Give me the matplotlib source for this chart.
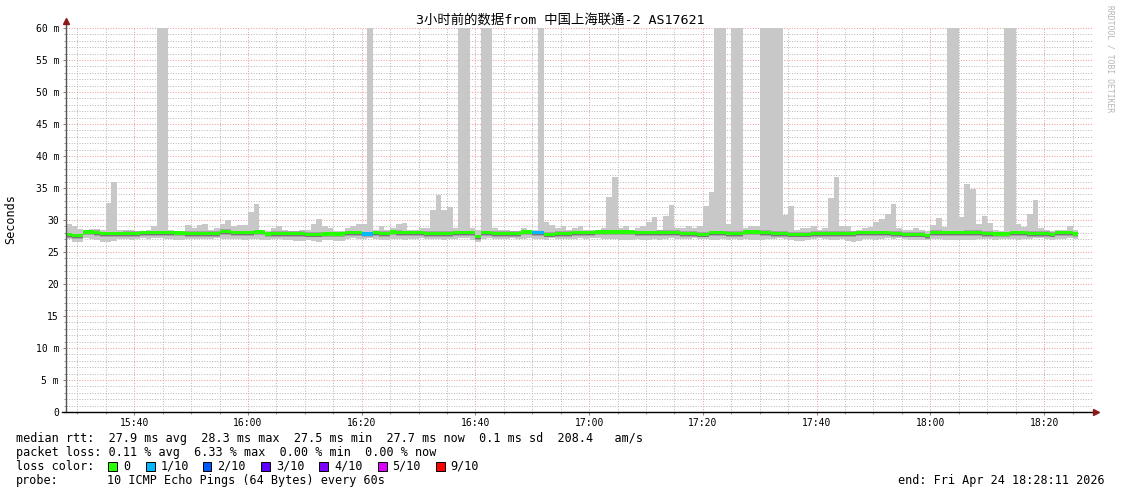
import numpy as np
import matplotlib.pyplot as plt
from matplotlib.patches import Rectangle

W, H = 1121, 494
MONO = 'DejaVu Sans Mono'

title = '3小时前的数据from 中国上海联通-2 AS17621'

# одна ступенька = 1 минута, отсчёт от 15:28
smoke_top = [
    29.4, 29.0, 28.6, 28.5, 28.6, 28.6, 28.4, 32.7, 35.9, 28.4,
    28.4, 28.5, 28.3, 28.3, 28.4, 29.1, 60.0, 60.0, 28.5, 28.3,
    28.3, 29.2, 28.7, 29.2, 29.4, 28.4, 28.7, 29.4, 30.0, 29.0,
    29.2, 29.2, 31.2, 32.5, 28.4, 28.3, 28.7, 29.0, 28.5, 28.3,
    28.3, 28.5, 28.5, 29.4, 30.2, 29.0, 28.7, 28.3, 28.3, 28.7,
    29.0, 29.4, 29.4, 60.0, 28.5, 29.0, 28.5, 28.7, 29.4, 29.6,
    28.5, 28.5, 28.7, 28.7, 31.5, 33.9, 31.6, 32.1, 28.7, 60.0,
    60.0, 28.7, 28.5, 60.0, 60.0, 28.7, 28.5, 28.5, 28.3, 28.3,
    28.7, 28.5, 28.5, 60.0, 29.7, 29.2, 28.7, 29.1, 28.5, 28.7,
    29.0, 28.5, 28.5, 28.5, 28.7, 33.6, 36.7, 28.7, 29.0, 28.5,
    28.7, 29.0, 29.7, 30.4, 28.5, 30.7, 32.4, 28.7, 28.7, 29.0,
    28.7, 29.1, 32.2, 34.4, 60.0, 60.0, 29.4, 60.0, 60.0, 28.7,
    29.0, 29.1, 60.0, 60.0, 60.0, 60.0, 30.8, 32.2, 28.5, 28.7,
    28.7, 29.0, 28.5, 28.7, 33.4, 36.7, 29.0, 29.1, 28.3, 28.5,
    28.7, 28.85, 29.7, 30.2, 31.0, 32.5, 28.7, 28.5, 28.5, 28.7,
    28.4, 28.3, 29.2, 30.25, 28.85, 60.0, 60.0, 30.4, 35.6, 34.8,
    29.4, 30.6, 29.6, 28.5, 28.3, 60.0, 60.0, 29.4, 28.85, 31.0,
    33.1, 28.7, 28.5, 28.3, 28.5, 28.5, 29.0, 28.5,
]

smoke_bottom = [
    27.1, 26.5, 26.5, 27.2, 27.1, 26.8, 26.6, 26.6, 26.7, 27.0,
    27.0, 26.9, 27.1, 27.2, 27.0, 27.2, 27.2, 27.1, 27.1, 26.9,
    26.9, 27.1, 27.0, 27.0, 27.1, 27.1, 27.2, 27.1, 27.0, 27.1,
    27.0, 26.8, 27.1, 27.0, 26.9, 26.8, 27.0, 27.0, 26.9, 26.9,
    26.7, 26.7, 26.9, 26.7, 26.6, 26.9, 26.9, 26.7, 26.7, 27.0,
    27.2, 27.1, 27.1, 27.2, 27.0, 26.9, 26.9, 27.0, 27.0, 26.9,
    27.1, 27.1, 27.2, 27.0, 27.0, 27.1, 26.9, 27.0, 27.1, 27.2,
    27.2, 26.8, 26.5, 27.1, 27.2, 27.0, 27.1, 27.0, 27.2, 27.1,
    27.1, 27.2, 27.1, 27.0, 26.9, 27.2, 27.0, 27.1, 27.0, 27.1,
    27.2, 27.1, 27.2, 27.2, 27.1, 27.0, 27.0, 26.9, 26.9, 26.9,
    27.0, 26.8, 26.8, 27.0, 26.9, 27.0, 27.2, 27.1, 27.1, 27.0,
    27.2, 27.1, 27.0, 26.9, 26.8, 27.0, 26.9, 27.0, 26.9, 27.1,
    26.8, 26.8, 26.9, 27.0, 27.1, 27.2, 27.1, 26.9, 26.7, 26.7,
    26.9, 27.1, 27.2, 27.0, 26.8, 26.8, 27.0, 26.7, 26.6, 26.7,
    27.0, 27.1, 26.9, 27.1, 27.2, 27.1, 27.2, 27.0, 26.8, 26.8,
    26.9, 26.8, 27.0, 27.1, 26.9, 26.8, 26.8, 26.9, 26.8, 26.9,
    27.0, 27.1, 27.1, 26.9, 27.0, 27.1, 27.0, 26.8, 27.0, 27.1,
    27.2, 27.2, 27.0, 26.9, 27.0, 27.1, 27.2, 27.1,
]

median_rtt = [
    27.7, 27.55, 27.55, 28.1, 28.1, 28.05, 27.85, 27.85, 27.85, 27.85,
    27.9, 27.9, 27.9, 28.0, 28.0, 28.0, 28.0, 28.0, 28.0, 27.95,
    27.95, 27.9, 27.9, 27.9, 27.9, 27.9, 27.9, 28.2, 28.2, 28.0,
    28.0, 28.0, 28.0, 28.1, 28.1, 27.8, 27.9, 27.9, 27.9, 27.9,
    27.9, 27.9, 27.75, 27.75, 27.75, 27.8, 27.8, 27.8, 27.8, 28.0,
    28.0, 28.0, 27.8, 27.8, 28.0, 27.9, 27.9, 28.1, 28.05, 28.0,
    28.0, 28.0, 28.0, 27.9, 27.9, 27.9, 27.9, 27.9, 28.0, 28.0,
    28.0, 28.0, 27.4, 28.0, 28.0, 27.9, 27.9, 27.9, 27.9, 27.9,
    28.1, 28.1, 28.0, 28.0, 27.75, 27.75, 27.9, 27.9, 27.9, 28.0,
    28.0, 28.0, 28.0, 28.1, 28.1, 28.1, 28.1, 28.1, 28.1, 28.1,
    28.0, 28.0, 28.0, 28.0, 28.05, 28.05, 28.05, 28.05, 27.9, 27.9,
    27.9, 27.75, 27.75, 28.0, 28.0, 28.0, 27.9, 27.9, 27.9, 28.1,
    28.1, 28.1, 28.05, 28.05, 27.9, 27.9, 27.9, 27.75, 27.75, 27.75,
    27.75, 27.9, 27.9, 27.9, 27.9, 27.9, 27.9, 27.9, 27.9, 28.0,
    28.0, 28.0, 28.0, 28.0, 28.0, 27.9, 27.9, 27.75, 27.75, 27.75,
    27.75, 27.55, 28.05, 28.05, 28.0, 28.0, 28.0, 28.0, 28.05, 28.05,
    28.05, 27.9, 27.9, 27.8, 27.8, 27.8, 28.0, 28.0, 28.0, 27.9,
    27.9, 27.9, 27.9, 27.75, 28.0, 28.0, 28.0, 27.8,
]

# минуты с потерями (1/10)
loss_minutes = [52, 53, 82, 83]
loss_levels = [1, 1, 1, 1]

loss_labels = ['0', '1/10', '2/10', '3/10', '4/10', '5/10', '9/10']
loss_colors = ['#26ff00', '#00b8ff', '#0059ff', '#5e00ff', '#7e00ff', '#dd00ff', '#ff0000']

y_ticks = [0, 5, 10, 15, 20, 25, 30, 35, 40, 45, 50, 55, 60]
y_labels = ['0', '5 m', '10 m', '15', '20', '25', '30', '35 m', '40 m', '45 m', '50 m', '55 m', '60 m']
x_ticks = [12, 32, 52, 72, 92, 112, 132, 152, 172]
x_labels = ['15:40', '16:00', '16:20', '16:40', '17:00', '17:20', '17:40', '18:00', '18:20']

rtt_line = 'median rtt:  27.9 ms avg  28.3 ms max  27.5 ms min  27.7 ms now  0.1 ms sd  208.4   am/s'
loss_line = 'packet loss: 0.11 % avg  6.33 % max  0.00 % min  0.00 % now'
probe_text = '10 ICMP Echo Pings (64 Bytes) every 60s'
end_text = 'end: Fri Apr 24 18:28:11 2026'

top = np.array(smoke_top)
bot = np.array(smoke_bottom)
med = np.array(median_rtt)
edges = np.arange(len(top) + 1)

fig = plt.figure(figsize=(W / 100, H / 100), dpi=100)
fig.patch.set_facecolor('white')
ax = fig.add_axes([66 / W, (H - 412) / H, (1093 - 66) / W, (412 - 28) / H])
ax.set_xlim(0, 180.6)
ax.set_ylim(0, 60)

# сетка точками
ax.set_yticks(y_ticks)
ax.set_yticklabels(y_labels)
ax.set_yticks(np.arange(0, 61, 1), minor=True)
ax.set_xticks(x_ticks)
ax.set_xticklabels(x_labels)
ax.set_xticks(np.arange(2, 181, 5), minor=True)
ax.grid(which='minor', color='#b8b8b8', linestyle=(0, (1, 1.6)), linewidth=0.72)
ax.grid(which='major', color='#ee9a9a', linestyle=(0, (1, 1.6)), linewidth=0.72)
ax.set_axisbelow(True)
for s in ax.spines.values():
    s.set_visible(False)
ax.tick_params(axis='both', which='both', labelsize=7, colors='#888888', labelcolor='black')
ax.tick_params(axis='y', which='major', length=2.5, pad=2.5)
ax.tick_params(axis='y', which='minor', length=1.5)
ax.tick_params(axis='x', which='major', length=2, pad=2)
ax.tick_params(axis='x', which='minor', length=1.5)
for lab in ax.get_xticklabels() + ax.get_yticklabels():
    lab.set_family(MONO)

# дым
ax.stairs(top, edges, baseline=bot, fill=True, color='#c8c8c8', lw=0)
ax.stairs(med + 0.32, edges, baseline=med - 0.48, fill=True, color='#a6a6a6', lw=0)
ax.stairs(med - 0.14, edges, baseline=med - 0.36, fill=True, color='#787878', lw=0)

# медиана
ax.stairs(med + 0.26, edges, baseline=med - 0.26, fill=True, color=loss_colors[0], lw=0)
for m, lvl in zip(loss_minutes, loss_levels):
    ax.bar(m, 0.52, bottom=med[m] - 0.26, width=1, align='edge', color=loss_colors[lvl], lw=0)

# оси со стрелками
ax.plot([0, 0], [0, 1.016], transform=ax.transAxes, color='#555555', lw=1, clip_on=False)
ax.plot([-0.004, 1.002], [0, 0], transform=ax.transAxes, color='black', lw=1, clip_on=False)
ax.plot([0], [1.018], marker='^', ms=4, color='#8b1a1a', transform=ax.transAxes, clip_on=False)
ax.plot([1.003], [0], marker='>', ms=4, color='#8b1a1a', transform=ax.transAxes, clip_on=False)


def ft(x, y, s, **kw):
    kw.setdefault('family', MONO)
    kw.setdefault('size', 8.5)
    kw.setdefault('va', 'center')
    fig.text(x / W, 1 - y / H, s, **kw)


ft(560, 21.5, title, family=[MONO, 'Noto Sans CJK SC'], size=9.6, ha='center')
ft(11, 219, 'Seconds', rotation=90, ha='center')
ft(1110, 59, 'RRDTOOL / TOBI OETIKER', rotation=270, ha='center', size=5.8, color='#b5b5b5')

ft(16, 438, rtt_line)
ft(16, 452, loss_line)
ft(16, 466, 'loss color:')
sq_x = [108, 145.5, 202.5, 261, 319, 377.5, 435.5]
for x, s, c in zip(sq_x, loss_labels, loss_colors):
    fig.add_artist(Rectangle((x / W, 1 - 470.5 / H), 9 / W, 9 / H, transform=fig.transFigure,
                             facecolor=c, edgecolor='black', lw=0.7))
    ft(x + 15, 466, s)
ft(16, 480, 'probe:')
ft(107, 480, probe_text)
ft(1105, 480, end_text, ha='right')

fig.savefig('out.png', dpi=100)
